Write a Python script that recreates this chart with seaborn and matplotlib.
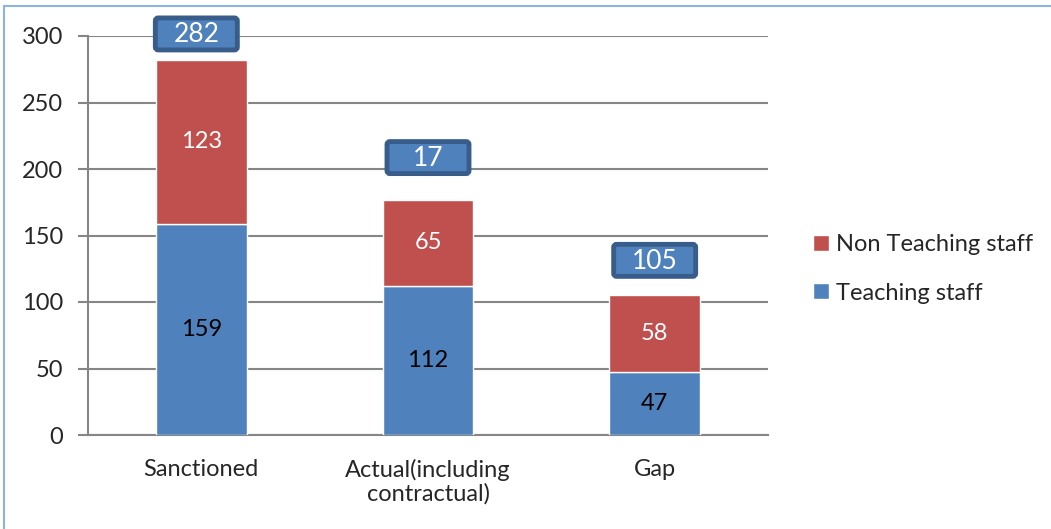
import matplotlib
matplotlib.use("Agg")
import matplotlib.pyplot as plt
import seaborn as sns
import pandas as pd
from matplotlib.patches import Rectangle, FancyBboxPatch
from matplotlib.transforms import IdentityTransform

categories = ["Sanctioned", "Actual(including\ncontractual)", "Gap"]
teaching = [159, 112, 47]
non_teaching = [123, 65, 58]
total_labels = ["282", "17", "105"]
yticks = [0, 50, 100, 150, 200, 250, 300]

BLUE = "#4F81BD"
RED = "#C0504D"
GRID = "#868686"
BOX_EDGE = "#385D8A"

sns.set_style("white")
plt.rcParams["font.family"] = ["Lato", "DejaVu Sans"]

df = pd.DataFrame({"cat": categories, "teach": teaching, "nonteach": non_teaching})
df["total"] = df["teach"] + df["nonteach"]

W, H = 1051, 529
fig = plt.figure(figsize=(W / 100, H / 100), dpi=100)
ax = fig.add_axes([88 / W, 94 / H, 680 / W, 399 / H])

sns.barplot(data=df, x="cat", y="teach", color=BLUE, width=0.4, ax=ax,
            saturation=1, label="Teaching staff", zorder=3, legend=False)
sns.barplot(data=df, x="cat", y="nonteach", bottom=df["teach"], color=RED,
            width=0.4, ax=ax, saturation=1, label="Non Teaching staff",
            zorder=3, legend=False)
if ax.get_legend() is not None:
    ax.get_legend().remove()

ax.set_xlim(-0.5, 2.5)
ax.set_ylim(0, 300)
ax.set_yticks(yticks)
ax.set_yticklabels([str(t) for t in yticks], fontsize=17)
ax.yaxis.grid(True, color=GRID, linewidth=1.5, zorder=0)
ax.set_axisbelow(True)
ax.set_xlabel("")
ax.set_ylabel("")
ax.tick_params(axis="x", length=0, labelsize=17, pad=17)
ax.tick_params(axis="y", length=7, width=1.5, color=GRID, pad=11, left=True)
for lbl in ax.get_xticklabels():
    lbl.set_linespacing(1.15)

for s in ["top", "right"]:
    ax.spines[s].set_visible(False)
for s in ["left", "bottom"]:
    ax.spines[s].set_color(GRID)
    ax.spines[s].set_linewidth(1.5)

# minor ticks on the x axis mark category boundaries
ax.set_xticks([-0.5, 0.5, 1.5, 2.5], minor=True)
ax.tick_params(axis="x", which="minor", length=7, width=1.5, color=GRID)

# segment value labels
for i, row in df.iterrows():
    ax.text(i, row["teach"] / 2, str(row["teach"]), ha="center", va="center",
            fontsize=17, color="black", zorder=5)
    ax.text(i, row["teach"] + row["nonteach"] / 2, str(row["nonteach"]),
            ha="center", va="center", fontsize=17, color="white", zorder=5)

# boxed total labels above each stack (box size in pixels)
offsets = [26, 42, 35]
x_shift = [-5, 0, 0]
box_w, box_h = 82, 32
for i, row in df.iterrows():
    px, py = ax.transData.transform((i, row["total"]))
    cx, cy = px + x_shift[i], py + offsets[i]
    box = FancyBboxPatch((cx - box_w / 2, cy - box_h / 2), box_w, box_h,
                         boxstyle="round,pad=0,rounding_size=3",
                         transform=IdentityTransform(), fc=BLUE, ec=BOX_EDGE,
                         lw=3.5, zorder=20)
    fig.patches.append(box)
    fig.text(cx, cy - 1, total_labels[i], transform=IdentityTransform(),
             ha="center", va="center", fontsize=19, color="white", zorder=21)

handles, labels = ax.get_legend_handles_labels()
hmap = dict(zip(labels, handles))
order = ["Non Teaching staff", "Teaching staff"]
fig.legend([hmap[k] for k in order], order,
           loc="center left", bbox_to_anchor=(792 / W, 1 - 269 / H),
           frameon=False, fontsize=17, handlelength=0.65, handleheight=0.65,
           handletextpad=0.3, labelspacing=1.15)

# chart area border (light blue)
fig.patches.append(Rectangle((4 / W, -0.1), 1.1, 1 - 6 / H + 0.1,
                             transform=fig.transFigure, fill=False,
                             ec="#8DB3E2", lw=1.5, zorder=10))

fig.savefig("out.png", dpi=100)
